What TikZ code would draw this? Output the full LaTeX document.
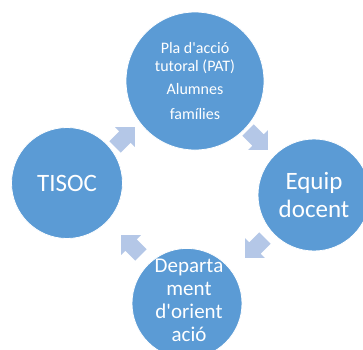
\documentclass[tikz,border=0pt]{standalone}
\usepackage{fontspec}
\setmainfont{Carlito}
\definecolor{circblue}{HTML}{5B9BD5}
\definecolor{arrowblue}{HTML}{B4C7E7}
\tikzset{
  cyc/.style={circle, fill=circblue, draw=white, line width=0.8pt, text=white, align=center, inner sep=0pt},
  cycarrow/.style={fill=arrowblue, draw=none},
}
\newcommand{\cycarrowat}[3]{%
  \begin{scope}[shift={(#1,#2)}, rotate=#3]
    \fill[cycarrow] (-14pt,-8pt) -- (0pt,-8pt) -- (0pt,-14pt) -- (14pt,0pt) -- (0pt,14pt) -- (0pt,8pt) -- (-14pt,8pt) -- cycle;
  \end{scope}}
\newcommand{\apos}{\textquotesingle}
\begin{document}
\begin{tikzpicture}[x=1pt,y=-1pt]
\useasboundingbox (0,0) rectangle (363,349);
\clip (0,0) rectangle (363,349);
\fill[white] (0,0) rectangle (363,349);
% arrows
\cycarrowat{258}{140}{-45}
\cycarrowat{255}{248}{-135}
\cycarrowat{131}{245}{135}
\cycarrowat{125}{137}{45}
% circles
\node[cyc, minimum size=138pt, font=\fontsize{16}{18}\selectfont] (pat) at (195,81)
  {Pla d\apos{}acció\\tutoral (PAT)\\[5pt]Alumnes\\[7pt]famílies};
\node[cyc, minimum size=112pt, font=\fontsize{25}{28}\selectfont] (equip) at (314,195) {Equip\\docent};
\node[cyc, minimum size=110pt, anchor=north] (dept) at (187,248) {};
\node[text=white, align=center, font=\fontsize{21}{23}\selectfont, anchor=north] (depttext) at (189,255) {Departa\\ment\\d\apos{}orient\\ació};
\node[cyc, minimum size=111pt, font=\fontsize{25}{28}\selectfont] (tisoc) at (67,183) {TISOC};
\end{tikzpicture}
\end{document}
